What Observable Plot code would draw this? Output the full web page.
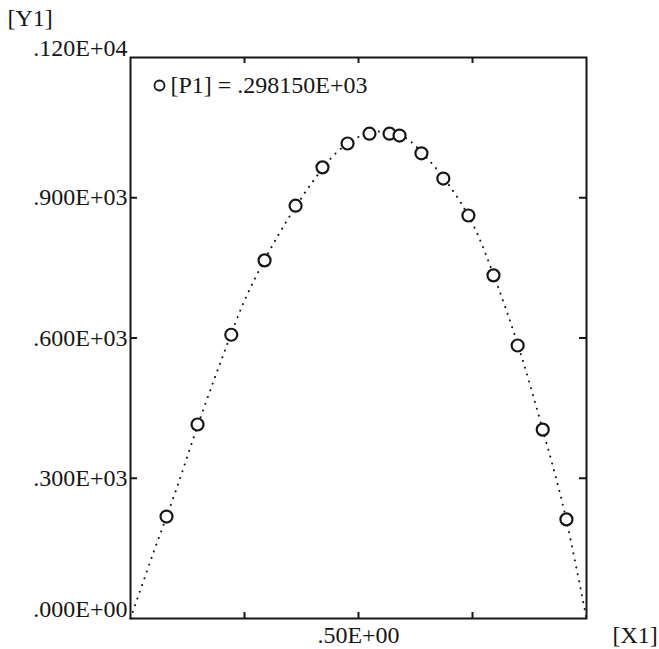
<!DOCTYPE html>
<html>
<head>
<meta charset="utf-8">
<script src="https://cdn.jsdelivr.net/npm/d3@7"></script>
<script src="https://cdn.jsdelivr.net/npm/@observablehq/plot@0.6"></script>
<style>
  html, body { margin: 0; padding: 0; background: #fff; }
  #chart svg { display: block; }
</style>
</head>
<body>
<div id="chart"></div>
<script>
// Measured points (circles)
const pointX = [0.079, 0.147, 0.221, 0.294, 0.362, 0.421, 0.476, 0.524, 0.568, 0.590, 0.638, 0.686, 0.741, 0.796, 0.849, 0.904, 0.956];
const pointY = [218, 415, 607, 766, 883, 965, 1016, 1037, 1037, 1033, 995, 941, 862, 734, 584, 404, 212];

// Fitted curve (dotted)
const curveX = [0, 0.05, 0.10, 0.15, 0.20, 0.25, 0.30, 0.35, 0.40, 0.45, 0.50, 0.55, 0.60, 0.65, 0.70, 0.75, 0.80, 0.85, 0.90, 0.95, 1.0];
const curveY = [0, 140, 275, 420, 555, 680, 778, 862, 935, 995, 1030, 1042, 1030, 985, 925, 845, 725, 584, 418, 235, 0];

// Axes
const yTicks = [0, 300, 600, 900, 1200];
const yTickLabels = [".000E+00", ".300E+03", ".600E+03", ".900E+03", ".120E+04"];
const xTicks = [0.25, 0.5, 0.75];
const xTickLabels = ["", ".50E+00", ""];
const yAxisTitle = "[Y1]";
const xAxisTitle = "[X1]";
const legendText = ["[P1] = .298150E+03"];

const points = pointX.map((x, i) => ({x, y: pointY[i]}));
const curve = curveX.map((x, i) => ({x, y: curveY[i]}));
const yLab = new Map(yTicks.map((t, i) => [t, yTickLabels[i]]));
const xLab = new Map(xTicks.map((t, i) => [t, xTickLabels[i]]));

const W = 659, H = 649;
const mL = 130, mR = 73, mT = 57, mB = 31;
const plotH = H - mT - mB, plotW = W - mL - mR;
const ink = "#161616";
const font = "Liberation Serif, Times New Roman, serif";
const fs = 24;

const chart = Plot.plot({
  width: W,
  height: H,
  marginLeft: mL, marginRight: mR, marginTop: mT, marginBottom: mB,
  style: {fontFamily: font, fontSize: fs + "px", color: ink, background: "#fff"},
  x: {domain: [0, 1], label: null},
  y: {domain: [0, 1200], label: null},
  marks: [
    Plot.frame({stroke: ink, strokeWidth: 2}),
    // inward ticks, bottom and top
    Plot.tickX(xTicks, {x: d => d, insetTop: plotH - 6, stroke: ink, strokeWidth: 2}),
    Plot.tickX(xTicks, {x: d => d, insetBottom: plotH - 6, stroke: ink, strokeWidth: 2}),
    // inward ticks, left and right
    Plot.tickY(yTicks.slice(1, -1), {y: d => d, insetRight: plotW - 7, stroke: ink, strokeWidth: 2}),
    Plot.tickY(yTicks.slice(1, -1), {y: d => d, insetLeft: plotW - 7, stroke: ink, strokeWidth: 2}),
    // tick labels
    Plot.axisY(yTicks.slice(1, -1), {label: null, tickSize: 0, tickPadding: 3, tickFormat: d => yLab.get(d), fontSize: fs, fill: ink}),
    Plot.axisY([yTicks[0], yTicks[yTicks.length - 1]], {label: null, tickSize: 0, tickPadding: 3, dy: -9, tickFormat: d => yLab.get(d), fontSize: fs, fill: ink}),
    Plot.axisX(xTicks, {label: null, tickSize: 0, tickPadding: 7, tickFormat: d => xLab.get(d), fontSize: fs, fill: ink}),
    // axis titles
    Plot.text([yAxisTitle], {frameAnchor: "top-left", text: d => d, dx: -123, dy: -39, textAnchor: "start", lineAnchor: "middle", fontSize: fs, fill: ink}),
    Plot.text([xAxisTitle], {frameAnchor: "bottom-right", text: d => d, dx: 26, dy: 17, textAnchor: "start", lineAnchor: "middle", fontSize: fs, fill: ink}),
    // dotted fitted curve
    Plot.line(curve, {x: "x", y: "y", curve: "catmull-rom", stroke: ink, strokeWidth: 2, strokeDasharray: "0.1,7", strokeLinecap: "round"}),
    // circles
    Plot.dot(points, {x: "x", y: "y", r: 6, stroke: ink, strokeWidth: 2.2, fill: "white"}),
    // legend
    Plot.dot(legendText, {frameAnchor: "top-left", dx: 29, dy: 28, r: 5, stroke: ink, strokeWidth: 1.8, fill: "white"}),
    Plot.text(legendText, {frameAnchor: "top-left", text: d => d, dx: 40, dy: 28, textAnchor: "start", lineAnchor: "middle", fontSize: fs, fill: ink})
  ]
});
document.getElementById("chart").appendChild(chart);
</script>
</body>
</html>
